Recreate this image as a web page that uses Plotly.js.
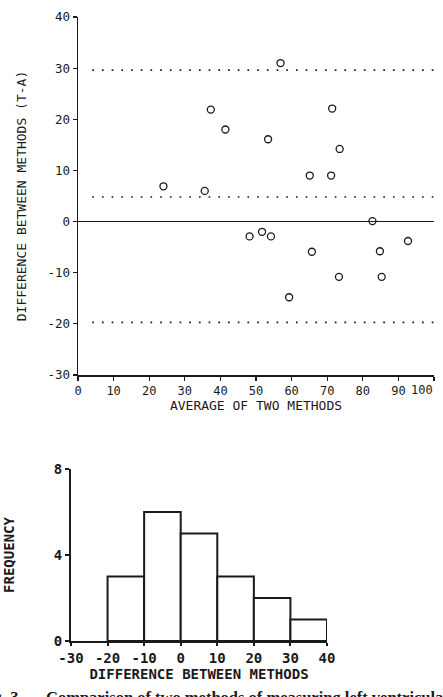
<!DOCTYPE html>
<html>
<head>
<meta charset="utf-8">
<script src="https://cdn.plot.ly/plotly-3.0.1.min.js"></script>
<style>html,body{margin:0;padding:0;background:#fff;}#chart{width:443px;height:697px;}</style>
</head>
<body>
<div id="chart"></div>
<script>
// Bland-Altman data: average of two methods vs difference (T-A)
var averageOfMethods = [24.0, 35.6, 37.3, 41.4, 53.4, 56.9, 65.1, 71.1, 71.4, 73.5, 82.7, 48.2, 51.7, 54.2, 92.7, 65.7, 84.8, 73.3, 85.3, 59.3];
var differenceTA     = [6.9, 6.0, 21.9, 18.0, 16.1, 31.0, 9.0, 9.0, 22.1, 14.2, 0.1, -2.9, -2.0, -2.9, -3.8, -5.9, -5.8, -10.8, -10.8, -14.8];
// mean difference and limits of agreement
var meanDiff = 4.8;
var upperLimit = 29.6;
var lowerLimit = -19.7;
var limitLineX = [4, 100];
// axis ticks
var topXTicks = [0, 10, 20, 30, 40, 50, 60, 70, 80, 90, 100];
var topXLabels = ['0', '10', '20', '30', '40', '50', '60', '70', '80', '90', ''];
var topXLastTick = 100, topXLastLabel = '100';
var topYTicks = [-30, -20, -10, 0, 10, 20, 30, 40];
var topYLabels = ['-30', '-20', '-10', '0', '10', '20', '30', '40'];
var histXTicks = [-30, -20, -10, 0, 10, 20, 30, 40];
var histXLabels = ['-30', '-20', '-10', '0', '10', '20', '30', '40'];
var histYTicks = [0, 4, 8];
var histBinStart = -20, histBinEnd = 40, histBinSize = 10;

var mono = 'DejaVu Sans Mono, monospace';
var ink = '#1a1a1a';

var traces = [
  {x: limitLineX, y: [upperLimit, upperLimit], xaxis: 'x', yaxis: 'y', mode: 'lines',
   line: {color: ink, width: 1.7, dash: '1.7px,8px'}, hoverinfo: 'skip', showlegend: false},
  {x: limitLineX, y: [meanDiff, meanDiff], xaxis: 'x', yaxis: 'y', mode: 'lines',
   line: {color: ink, width: 1.7, dash: '1.7px,8px'}, hoverinfo: 'skip', showlegend: false},
  {x: limitLineX, y: [lowerLimit, lowerLimit], xaxis: 'x', yaxis: 'y', mode: 'lines',
   line: {color: ink, width: 1.7, dash: '1.7px,8px'}, hoverinfo: 'skip', showlegend: false},
  {x: averageOfMethods, y: differenceTA, xaxis: 'x', yaxis: 'y', mode: 'markers',
   marker: {symbol: 'circle-open', size: 7, color: ink, line: {width: 1.3, color: ink}}, showlegend: false},
  {x: differenceTA, type: 'histogram', xaxis: 'x2', yaxis: 'y2',
   xbins: {start: histBinStart, end: histBinEnd, size: histBinSize},
   marker: {color: '#ffffff', line: {color: ink, width: 2}}, showlegend: false}
];

var W = 443, H = 697;
function px(v){return v / W;}
function py(v){return 1 - v / H;}

var layout = {
  width: W, height: H,
  margin: {l: 0, r: 0, t: 0, b: 0},
  paper_bgcolor: '#fff', plot_bgcolor: '#fff',
  showlegend: false,
  bargap: 0,
  font: {family: mono, color: ink, size: 12},
  xaxis: {
    domain: [px(78), px(434)], range: [0, 100], anchor: 'y',
    tickvals: topXTicks, ticktext: topXLabels,
    ticks: 'outside', ticklen: 4, tickwidth: 1.2, tickcolor: ink,
    showline: true, linecolor: ink, linewidth: 1.5, showgrid: false, zeroline: false,
    tickfont: {family: mono, size: 12, color: ink},
    title: {text: 'AVERAGE OF TWO METHODS', font: {family: mono, size: 13, color: ink}, standoff: 3}
  },
  yaxis: {
    domain: [py(375), py(17)], range: [-30, 40], anchor: 'x',
    tickvals: topYTicks, ticktext: topYLabels,
    ticks: 'outside', ticklen: 4, tickwidth: 1.2, tickcolor: ink,
    showline: true, linecolor: ink, linewidth: 1.5, showgrid: false,
    zeroline: true, zerolinecolor: ink, zerolinewidth: 1.6,
    tickfont: {family: mono, size: 12.5, color: ink},
    title: {text: 'DIFFERENCE BETWEEN METHODS (T-A)', font: {family: mono, size: 13, color: ink}, standoff: 18}
  },
  xaxis2: {
    domain: [px(71), px(327)], range: [-30, 40], anchor: 'y2',
    tickvals: histXTicks, ticktext: histXLabels,
    ticks: 'outside', ticklen: 3, tickwidth: 2, tickcolor: ink,
    showline: true, linecolor: ink, linewidth: 2, showgrid: false, zeroline: false,
    tickfont: {family: mono, size: 14, color: ink, weight: 'bold'},
    title: {text: 'DIFFERENCE BETWEEN METHODS', font: {family: mono, size: 14, color: ink, weight: 'bold'}, standoff: 0}
  },
  yaxis2: {
    domain: [py(641), py(469)], range: [0, 8], anchor: 'x2',
    tickvals: histYTicks, ticks: 'outside', ticklen: 4, tickwidth: 2, tickcolor: ink,
    showline: true, linecolor: ink, linewidth: 2, showgrid: false, zeroline: false,
    tickfont: {family: mono, size: 14, color: ink, weight: 'bold'},
    title: {text: 'FREQUENCY', font: {family: mono, size: 14, color: ink, weight: 'bold'}, standoff: 36}
  },
  annotations: [
    {text: topXLastLabel, xref: 'x', yref: 'paper', x: topXLastTick, y: py(381), xanchor: 'right', yanchor: 'top',
     xshift: 1, showarrow: false, font: {family: mono, size: 12, color: ink}},
    {text: 'Fig. 3', xref: 'paper', yref: 'paper', x: px(20), y: py(686), xanchor: 'right', yanchor: 'top',
     showarrow: false, font: {family: 'Liberation Serif, serif', size: 16.5, color: ink, weight: 'bold'}},
    {text: 'Comparison of two methods of measuring left ventricular ejection fraction', xref: 'paper', yref: 'paper',
     x: px(44), y: py(686), xanchor: 'left', yanchor: 'top',
     showarrow: false, font: {family: 'Liberation Serif, serif', size: 16.5, color: ink, weight: 'bold'}}
  ]
};

Plotly.newPlot('chart', traces, layout, {displayModeBar: false, staticPlot: true});
</script>
</body>
</html>
